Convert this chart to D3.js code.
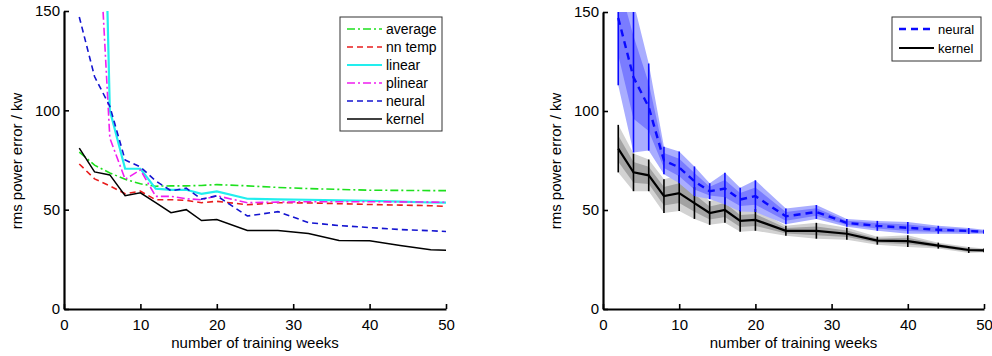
<!DOCTYPE html>
<html>
<head>
<meta charset="utf-8">
<script src="https://cdn.jsdelivr.net/npm/d3@7"></script>
<style>
body { margin: 0; background: #fff; }
text { font-family: Arial, "Liberation Sans", sans-serif; fill: #000; }
.axis path, .axis line { stroke: #000; }
</style>
</head>
<body>
<svg id="chart" width="992" height="356"></svg>
<script>
// number of training weeks
var weeks = [2, 4, 6, 8, 10, 12, 14, 16, 18, 20, 24, 28, 32, 36, 40, 44, 48, 50];
var kernel = [81, 69, 67.5, 57, 58.5, 53.5, 48.5, 50, 44.5, 45, 39.5, 39.5, 38, 34.5, 34.3, 32, 29.8, 29.6];
var neural = [147, 117, 102, 75, 71.5, 64.5, 59.5, 60.8, 55.3, 57, 46.8, 49, 43.5, 42, 41, 40, 39.4, 39];
var average = [79, 72.4, 68.5, 65.3, 63, 61.8, 62, 62, 62.2, 62.6, 62, 61.2, 60.6, 60.2, 59.8, 59.7, 59.6, 59.6];
var nnTemp = [73, 65.5, 62, 58, 59.3, 55, 55, 54.7, 53.5, 54.2, 52.5, 53.5, 53.4, 53, 52.6, 52.3, 52, 51.6];
// linear / plinear have no usable value at 2 weeks
var linWeeks = [4, 6, 8, 10, 12, 14, 16, 18, 20, 24, 28, 32, 36, 40, 44, 48, 50];
var linear = [420, 100, 70.6, 70.6, 60.6, 60, 60, 58, 59.2, 55.5, 55.2, 55, 54.7, 54.5, 54, 53.6, 53.5];
var plinear = [230, 86, 65.3, 70, 56.7, 56.7, 55.5, 55, 57, 53.5, 53.8, 54, 54, 54, 53.9, 53.8, 53.7];
// spread over repeated runs (right panel)
var kernelSd = [12, 9.5, 8, 8.5, 9, 8, 6, 6.5, 5.5, 5.5, 2.5, 4, 3, 2, 3, 1.5, 1.5, 1];
var neuralSd = [34, 38, 22, 7, 8, 7.5, 4, 8, 6, 8, 4, 3.5, 2, 2.5, 3, 2, 1.5, 1];
var xTicks = [0, 10, 20, 30, 40, 50];
var yTicks = [0, 50, 100, 150];

var svg = d3.select("#chart");

function make_panel(id, x0, x1, y0, y1) {
    var x = d3.scaleLinear().domain([0, 50]).range([x0, x1]);
    var y = d3.scaleLinear().domain([0, 150]).range([y0, y1]);
    var g = svg.append("g").attr("id", id);
    g.append("clipPath").attr("id", id + "_clip")
            .append("rect")
            .attr("x", x0).attr("y", y1)
            .attr("width", x1 - x0).attr("height", y0 - y1);
    var plot = g.append("g").attr("clip-path", "url(#" + id + "_clip)");
    return {g: g, plot: plot, x: x, y: y};
}

function draw_axes(p, labelX) {
    var xAxis = d3.axisBottom(p.x).tickValues(xTicks).tickSizeInner(-5).tickSizeOuter(0).tickPadding(10);
    var yAxis = d3.axisLeft(p.y).tickValues(yTicks).tickSizeInner(-5).tickSizeOuter(0).tickPadding(4);
    var gx = p.g.append("g").attr("class", "axis")
            .attr("transform", "translate(0," + p.y(0) + ")")
            .call(xAxis);
    var gy = p.g.append("g").attr("class", "axis")
            .attr("transform", "translate(" + p.x(0) + ",0)")
            .call(yAxis);
    [gx, gy].forEach(function (a) {
        a.select(".domain").attr("stroke-width", 2.2);
        a.selectAll(".tick line").attr("stroke-width", 1.6);
        a.selectAll("text").attr("font-size", 15).attr("font-family", "Arial, Liberation Sans, sans-serif");
    });
    p.g.append("text")
            .attr("transform", "rotate(-90)")
            .attr("x", -161)
            .attr("y", labelX)
            .attr("text-anchor", "middle")
            .attr("font-size", 15)
            .text("rms power error / kw");
    p.g.append("text")
            .attr("x", (p.x(0) + p.x(50)) / 2)
            .attr("y", 348)
            .attr("text-anchor", "middle")
            .attr("font-size", 15)
            .text("number of training weeks");
}

function draw_legend(g, items, bx, by, bw, rowH, fontSize) {
    var lg = g.append("g");
    lg.append("rect")
            .attr("x", bx).attr("y", by)
            .attr("width", bw).attr("height", items.length * rowH + 6)
            .attr("fill", "#fff").attr("stroke", "#333").attr("stroke-width", 1);
    items.forEach(function (s, i) {
        var yy = by + 12 + i * rowH;
        lg.append("line")
                .attr("x1", bx + 7).attr("x2", bx + 42)
                .attr("y1", yy).attr("y2", yy)
                .attr("stroke", s.color)
                .attr("stroke-width", s.legendWidth || s.width)
                .attr("stroke-dasharray", s.dash);
        lg.append("text")
                .attr("x", bx + 46).attr("y", yy + 5)
                .attr("font-size", fontSize)
                .text(s.name);
    });
}

// ---- left panel: all methods
var left = make_panel("left", 64, 446, 309, 11);
var leftSeries = [
    {name: "average", xs: weeks, ys: average, color: "#1ee01e", width: 1.6, dash: "8,3,2,3"},
    {name: "nn temp", xs: weeks, ys: nnTemp, color: "#e81c1c", width: 1.6, dash: "6,4"},
    {name: "linear", xs: linWeeks, ys: linear, color: "#22eeee", width: 2.2, dash: null},
    {name: "plinear", xs: linWeeks, ys: plinear, color: "#f01ef0", width: 1.6, dash: "8,3,2,3"},
    {name: "neural", xs: weeks, ys: neural, color: "#1414d0", width: 1.6, dash: "6,4"},
    {name: "kernel", xs: weeks, ys: kernel, color: "#000", width: 1.5, dash: null}
];
var lineL = d3.line()
        .x(function (d) { return left.x(d[0]); })
        .y(function (d) { return left.y(d[1]); });
leftSeries.forEach(function (s) {
    left.plot.append("path")
            .datum(d3.zip(s.xs, s.ys))
            .attr("fill", "none")
            .attr("stroke", s.color)
            .attr("stroke-width", s.width)
            .attr("stroke-dasharray", s.dash)
            .attr("d", lineL);
});
draw_axes(left, 22);
draw_legend(left.g, leftSeries, 340, 17, 102, 18, 14);

// ---- right panel: neural vs kernel with spread
var right = make_panel("right", 603, 984, 309, 12);
var rightSeries = [
    {name: "neural", ys: neural, sd: neuralSd, color: "#0a0aff", light: "#a9adff", dark: "#7a7cff", width: 2.4, dash: "7,5"},
    {name: "kernel", ys: kernel, sd: kernelSd, color: "#000", light: "#d2d2d2", dark: "#a2a2a2", width: 2.2, dash: null}
];
var band = function (k) {
    return d3.area()
            .x(function (d) { return right.x(d.w); })
            .y0(function (d) { return right.y(d.v - k * d.s); })
            .y1(function (d) { return right.y(d.v + k * d.s); });
};
var lineR = d3.line()
        .x(function (d) { return right.x(d.w); })
        .y(function (d) { return right.y(d.v); });
var rows = rightSeries.map(function (s) {
    return weeks.map(function (w, i) { return {w: w, v: s.ys[i], s: s.sd[i]}; });
});
// bands first (kernel underneath neural)
[1, 0].forEach(function (k) {
    var s = rightSeries[k];
    right.plot.append("path").datum(rows[k]).attr("fill", s.light).attr("d", band(1));
    right.plot.append("path").datum(rows[k]).attr("fill", s.dark).attr("d", band(0.55));
});
[1, 0].forEach(function (k) {
    var s = rightSeries[k];
    right.plot.selectAll(null).data(rows[k]).enter().append("line")
            .attr("x1", function (d) { return right.x(d.w); })
            .attr("x2", function (d) { return right.x(d.w); })
            .attr("y1", function (d) { return right.y(d.v - d.s); })
            .attr("y2", function (d) { return right.y(d.v + d.s); })
            .attr("stroke", s.color)
            .attr("stroke-width", 1.6);
    right.plot.append("path").datum(rows[k])
            .attr("fill", "none")
            .attr("stroke", s.color)
            .attr("stroke-width", s.width)
            .attr("stroke-dasharray", s.dash)
            .attr("d", lineR);
});
draw_axes(right, 561);
draw_legend(right.g, rightSeries, 892, 17, 89, 19, 13);
</script>
</body>
</html>
